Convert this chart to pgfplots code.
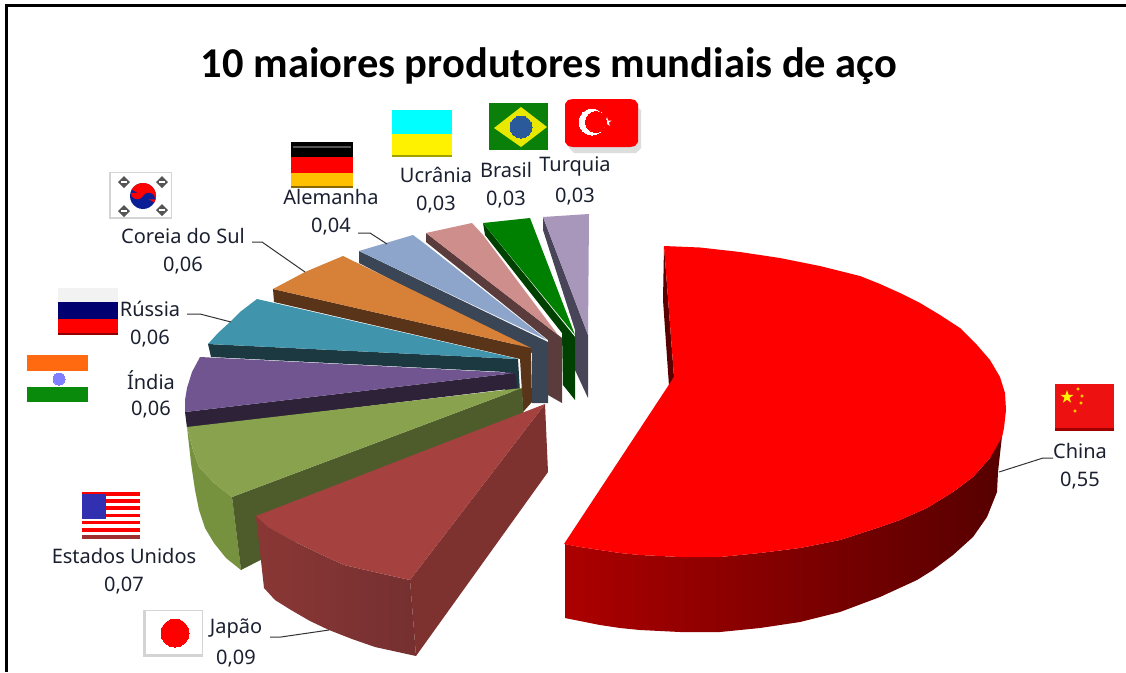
\documentclass[border=0pt]{standalone}
\usepackage{fontspec}
\usepackage{pgfplots}
\pgfplotsset{compat=1.18}
\usetikzlibrary{plotmarks}
\setmainfont{Noto Sans}
\newfontfamily\titlefont{Carlito}
\definecolor{txt}{HTML}{1A2030}
\newcommand\poly[2]{\addplot[draw=none,fill=#1] coordinates {#2} --cycle;}
\newcommand\band[5]{\addplot[draw=none,fill=#1] coordinates {(#2,#3)(#4,#3)(#4,#5)(#2,#5)} --cycle;}
\newcommand\shd[3]{\addplot[draw=none,left color=#1,right color=#2] coordinates {#3} --cycle;}
\newcommand\fdot[4]{\addplot[only marks,mark=*,mark size=#4pt,mark options={draw=#1,fill=#1,line width=0pt}] coordinates {(#2,#3)};}
\newcommand\lead[1]{\addplot[draw=black!80,line width=1pt] coordinates {#1};}
\newcommand\lab[4]{\node[text=txt,font=\fontsize{20}{22}\selectfont,anchor=center] at (axis cs:#1,#2) {#3};\node[text=txt,font=\fontsize{20}{22}\selectfont,anchor=center] at (axis cs:#1,#2+29.5) {#4};}
\definecolor{c1}{HTML}{484558}\definecolor{c2}{HTML}{A896BB}\definecolor{c3}{HTML}{004000}\definecolor{c4}{HTML}{008000}
\definecolor{c5}{HTML}{5A3C3C}\definecolor{c6}{HTML}{CE8E8C}\definecolor{c7}{HTML}{3A4656}\definecolor{c8}{HTML}{8EA5CB}
\definecolor{c9}{HTML}{5A3418}\definecolor{c10}{HTML}{D68038}\definecolor{c11}{HTML}{1C3840}\definecolor{c12}{HTML}{4095AD}
\definecolor{c13}{HTML}{2E2238}\definecolor{c14}{HTML}{705590}\definecolor{c15}{HTML}{77923F}\definecolor{c16}{HTML}{4E5C2C}
\definecolor{c17}{HTML}{88A24E}\definecolor{c18}{HTML}{8A3735}\definecolor{c19}{HTML}{753030}\definecolor{c20}{HTML}{7D3230}
\definecolor{c21}{HTML}{A5413F}\definecolor{c22}{HTML}{5A0000}\definecolor{c23}{HTML}{AC0000}\definecolor{c24}{HTML}{560000}\definecolor{c25}{HTML}{6C0000}
\definecolor{kblue}{HTML}{0A1E96}\definecolor{kgrey}{HTML}{555555}\definecolor{lgrey}{HTML}{D4D4D4}\definecolor{gold}{HTML}{FFC000}
\definecolor{dgold}{HTML}{8A6A00}\definecolor{owhite}{HTML}{F2F2F2}\definecolor{navy}{HTML}{000070}\definecolor{dred}{HTML}{900000}
\definecolor{saff}{HTML}{FF6A10}\definecolor{igreen}{HTML}{0A8A0A}\definecolor{chak}{HTML}{8080FF}\definecolor{ucy}{HTML}{00FFFF}
\definecolor{dyel}{HTML}{A0A000}\definecolor{bgreen}{HTML}{0A800A}\definecolor{byel}{HTML}{E8E800}\definecolor{bblue}{HTML}{2A5A9A}
\definecolor{tsh}{HTML}{DDDDDD}\definecolor{cred}{HTML}{EE1111}\definecolor{cdred}{HTML}{A00000}\definecolor{cgold}{HTML}{FFD000}
\definecolor{udr}{HTML}{A03030}\definecolor{ublue}{HTML}{3030B0}
\begin{document}
\begin{tikzpicture}
\begin{axis}[scale only axis,width=1126pt,height=672pt,xmin=0,xmax=1126,ymin=0,ymax=672,y dir=reverse,axis lines=none,clip=true,no markers]
% background keeps the full page
\band{white}{0}{0}{1126}{672}
% frame
\band{black}{5}{4}{1126}{7}
\band{black}{5}{4}{8}{672}
% Turquia slice
\poly{c1}{(543,217)(543,230)(575,330)(575,370)(588,398)(588,335)}
\poly{c2}{(543,217)(589,214)(588,335)}
% Brasil slice
\poly{c3}{(483,223)(485,235)(562,333)(563,385)(575,400)(575,337)}
\poly{c4}{(483,223)(530,218)(575,335)}
% Ucrania slice
\poly{c5}{(426,233)(426,242)(548,340)(548,395)(562,403)(562,338)}
\poly{c6}{(426,233)(472,223)(483,235)(558,335)}
% Alemanha slice
\poly{c7}{(359,251)(359,263)(532,353)(532,403)(548,403)(548,342)}
\poly{c8}{(359,251)(413,235)(425,244)(547,340)}
% Coreia slice
\poly{c9}{(273,289)(274,302)(520,359)(522,392)(523,412)(532,402)(531,348)}
\poly{c10}{(343,256)(305,272)(273,289)(531,348)}
% Russia slice
\poly{c11}{(208,344)(211,357)(505,372)(505,392)(520,392)(518,359)}
\poly{c12}{(257,299)(240,312)(230,322)(218,333)(208,344)(518,359)}
% India slice
\poly{c13}{(185,412)(187,428)(517,388)(515,373)}
\poly{c14}{(200,357)(192,372)(187,388)(185,400)(185,412)(515,373)}
% EUA slice
\poly{c15}{(187,427)(191,463)(195,490)(199,510)(205,528)(214,543)(226,558)(241,570)(232,497)(214,483)(199,467)(193,450)}
\poly{c16}{(232,497)(522,388)(524,425)(241,570)}
\poly{c17}{(522,388)(187,427)(193,450)(199,467)(214,483)(232,497)}
% Japao slice
\shd{c18}{c19}{(256,516)(264,588)(275,600)(291,610)(310,621)(329,630)(352,639)(375,647)(416,656)(410,580)(383,574)(344,565)(318,553)(291,540)(268,527)}
\poly{c20}{(410,580)(545,404)(548,472)(416,656)}
\poly{c21}{(256,516)(268,527)(291,540)(318,553)(344,565)(383,574)(410,580)(545,404)}
% China slice
\poly{c22}{(664,246)(663,300)(669,386)(674,377)}
\addplot[draw=none,left color=c23,middle color=c25,right color=c24] coordinates {(565,544)(565,618)(580,621)(600,625)(620,628)(640,630)(680,632)(720,632)(760,628)(800,622)(840,612)(880,597)(917,580)(933,570)(953,555)(973,537)(987,517)(997,492)(998,472)(1003,427)(990,458)(973,477)(953,492)(927,508)(900,520)(880,527)(840,540)(800,548)(760,553)(720,557)(680,557)(640,555)(620,553)(600,550)(580,547)} --cycle;
\poly{red}{(664,246)(700,247.5)(740,252)(780,258)(820,266)(860,276)(880,284)(900,293)(920,303)(940,315)(960,328)(977,345)(990,360)(1000,377)(1005,393)(1006,410)(1004,428)(1002,437)(990,458)(973,477)(953,492)(927,508)(900,520)(880,527)(840,540)(800,548)(760,553)(720,557)(680,557)(640,555)(620,553)(600,550)(580,547)(564,544)(674,377)}
% leaders
\lead{(999,472)(1043,458)(1053,458)}
\lead{(270,637)(281,637)(329,630)}
\lead{(252,242)(262,242)(305,272)}
\lead{(187,314)(200,314)(231,322)}
\lead{(358,233)(370,233)(387,244)}
% Korea flag
\band{lgrey}{109}{172}{172}{219}
\band{white}{111}{173}{171}{217}
\poly{kblue}{(156,196)(155.56,199.36)(154.26,202.5)(152.19,205.19)(149.5,207.26)(146.36,208.56)(143,209)(139.64,208.56)(136.5,207.26)(133.81,205.19)(131.74,202.5)(130.44,199.36)(130,196)(130.44,192.64)(131.74,189.5)(133.81,186.81)(136.5,184.74)(139.64,183.44)(143,183)(146.36,183.44)(149.5,184.74)(152.19,186.81)(154.26,189.5)(155.56,192.64)}
\poly{red}{(154.26,202.5)(155.56,199.36)(156,196)(155.56,192.64)(154.26,189.5)(152.19,186.81)(149.5,184.74)(146.36,183.44)(143,183)(139.64,183.44)(136.5,184.74)(133.81,186.81)(131.74,189.5)}
\poly{red}{(143.87,192.75)(143,196)(140.62,198.38)(137.37,199.25)(134.12,198.38)(131.74,196)(130.87,192.75)}
\poly{kblue}{(155.13,199.25)(154.26,196)(151.88,193.62)(148.63,192.75)(145.38,193.62)(143,196)(142.13,199.25)}
\poly{kgrey}{(124,176)(130,182)(124,188)(118,182)}
\poly{kgrey}{(162,176)(168,182)(162,188)(156,182)}
\poly{kgrey}{(124,205)(130,211)(124,217)(118,211)}
\poly{kgrey}{(162,204)(168,210)(162,216)(156,210)}
\poly{white}{(121,183)(127,183)(127,181)(121,181)}
\poly{white}{(159,183)(165,183)(165,181)(159,181)}
\poly{white}{(121,212)(127,212)(127,210)(121,210)}
\poly{white}{(159,211)(165,211)(165,209)(159,209)}
% Germany
\band{black}{291}{142}{353}{157}
\band{kgrey}{293}{146}{351}{148}
\band{red}{291}{157}{353}{173}
\band{gold}{291}{173}{353}{188}
\band{dgold}{291}{186}{353}{188}
% Russia
\band{owhite}{58}{288}{118}{302}
\band{navy}{58}{302}{118}{319}
\band{red}{58}{319}{118}{335}
\band{dred}{58}{333}{118}{335}
% India
\band{saff}{27}{355}{88}{371}
\band{white}{27}{371}{88}{387}
\band{igreen}{27}{387}{88}{402}
\fdot{chak}{59}{379}{6}
% Ukraine
\band{ucy}{392}{110}{452}{134}
\band{yellow}{392}{134}{452}{157}
\band{dyel}{392}{155}{452}{157}
% Brazil
\band{bgreen}{489}{103}{548}{150}
\poly{byel}{(494,128)(521,107)(547,127)(521,147)}
\fdot{bblue}{521}{127}{11}
% Turkey
\poly{tsh}{(574,106)(636,106)(641,110)(641,148)(636,153)(574,153)(569,148)}
\poly{red}{(573,99)(630,99)(635,100)(638,104)(638,142)(635,146)(630,147)(573,147)(568,146)(565,142)(565,104)(568,100)}
\fdot{white}{592}{122}{13}
\fdot{red}{596}{122}{10.5}
\poly{white}{(607,117)(608.1,120.5)(611.8,120.5)(608.8,122.6)(609.9,126)(607,123.9)(604.1,126)(605.2,122.6)(602.2,120.5)(605.9,120.5)}
% China
\band{cred}{1055}{384}{1114}{431}
\band{cdred}{1055}{428}{1114}{431}
\poly{yellow}{(1067,390)(1068.6,394.8)(1073.7,394.8)(1069.5,397.8)(1071.1,402.7)(1067,399.7)(1062.9,402.7)(1064.5,397.8)(1060.3,394.8)(1065.4,394.8)}
\addplot[only marks,mark=*,mark size=1.3pt,mark options={draw=cgold,fill=cgold}] coordinates {(1078,389)(1082,396)(1081,403)(1075,411)};
% USA
\band{white}{82}{492}{140}{539}
\band{red}{82}{492}{140}{495.6}
\band{red}{82}{499.2}{140}{502.8}
\band{red}{82}{506.4}{140}{510}
\band{red}{82}{513.6}{140}{517.2}
\band{red}{82}{520.8}{140}{524.4}
\band{red}{82}{528}{140}{531.6}
\band{udr}{82}{535.2}{140}{539}
\band{ublue}{82}{494}{106}{519}
% Japan
\band{lgrey}{143}{610}{203}{657}
\band{white}{146}{611}{202}{654}
\fdot{red}{175}{633}{14}
% text
\node[font=\titlefont\bfseries\fontsize{42.5}{46}\selectfont,text=black,anchor=center] at (axis cs:549,66) {10 maiores produtores mundiais de aço};
\lab{1080}{451}{China}{0,55}
\lab{236}{629}{Japão}{0,09}
\lab{124}{556}{Estados Unidos}{0,07}
\lab{151}{380}{Índia}{0,06}
\lab{150}{309}{Rússia}{0,06}
\lab{183}{236}{Coreia do Sul}{0,06}
\lab{331}{197}{Alemanha}{0,04}
\lab{436}{175}{Ucrânia}{0,03}
\lab{506}{170}{Brasil}{0,03}
\lab{575}{167}{Turquia}{0,03}
\end{axis}
\end{tikzpicture}
\end{document}
